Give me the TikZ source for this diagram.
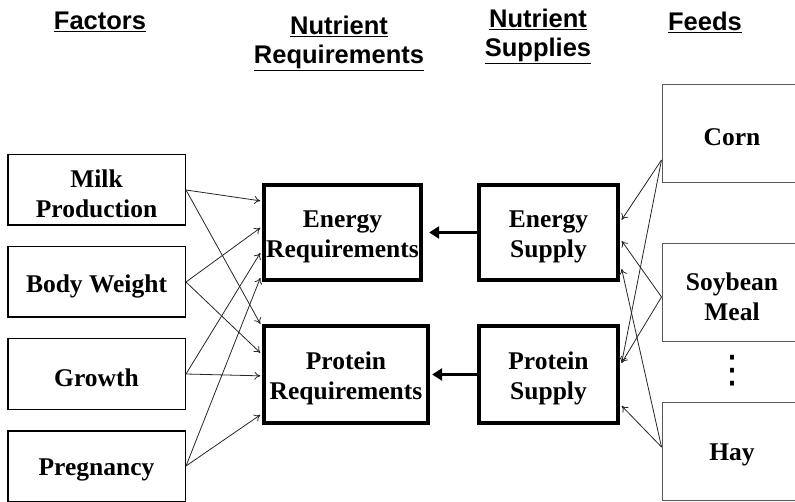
\documentclass[tikz,border=0pt]{standalone}
\usepackage{fontspec}
\setmainfont{Liberation Serif}
\newfontfamily\headfont{Liberation Sans}
\newfontfamily\dotsfont{DejaVu Sans}
\usetikzlibrary{calc,arrows.meta}
\begin{document}
\begin{tikzpicture}[x=1pt,y=-1pt,
  head/.style={font=\headfont\bfseries\fontsize{25.5}{30}\selectfont, align=center, inner sep=0pt},
  boxfont/.style={font=\bfseries\fontsize{25.5}{30}\selectfont},
  txt/.style={label={[boxfont, align=center, inner sep=0pt, yshift=-4pt]center:#1}},
  factor/.style={draw, line width=1.5pt, minimum width=177.5pt, minimum height=70.5pt, inner sep=0pt},
  core/.style={draw, line width=3.8pt, inner sep=0pt},
  feed/.style={draw=black!65, line width=1pt, minimum width=140pt, minimum height=98pt, inner sep=0pt},
  thin/.style={-{To[length=6pt,width=8pt]}, line width=0.8pt, black!85},
  big/.style={-{Triangle[length=10pt,width=12pt]}, line width=3.8pt}]
\useasboundingbox (0,0) rectangle (795,502);
% headers
\node[head] (h1) at (100,22) {\underline{Factors}};
\node[head] (h2) at (339,43) {\underline{Nutrient}\\[-1pt]\underline{Requirements}};
\node[head] (h3) at (538,36) {\underline{Nutrient}\\[-1pt]\underline{Supplies}};
\node[head] (h4) at (705,22) {\underline{Feeds}};
% factors
\node[factor, txt={Milk\\Production}] (milk) at (96.5,190) {};
\node[factor, txt={Body Weight}] (bw) at (96.5,282) {};
\node[factor, txt={Growth}] (gr) at (96.5,374) {};
\node[factor, txt={Pregnancy}] (pr) at (96.5,466) {};
% requirements / supplies
\node[core, minimum width=157.5pt, minimum height=95.5pt, txt={Energy\\Requirements}] (ereq) at (342.5,232.5) {};
\node[core, minimum width=164.5pt, minimum height=97.5pt, txt={Protein\\Requirements}] (preq) at (346,374.5) {};
\node[core, minimum width=139.5pt, minimum height=95.5pt, txt={Energy\\Supply}] (esup) at (548.5,232.5) {};
\node[core, minimum width=139.5pt, minimum height=97.5pt, txt={Protein\\Supply}] (psup) at (548.5,374.5) {};
% feeds
\node[feed, txt={Corn}] (corn) at (732,133.5) {};
\node[feed, txt={Soybean\\Meal}] (soy) at (732,292.5) {};
\node[feed, txt={Hay}] (hay) at (732,451) {};
\node[font=\dotsfont\fontsize{38}{38}\selectfont, inner sep=0pt] (dots) at (732,371) {⋮};
% thick arrows
\draw[big] (esup.west) -- ([xshift=6pt]ereq.east);
\draw[big] (psup.west) -- ([xshift=2pt]preq.east);
% factor arrows
\coordinate (e1) at ($(ereq.north west)+(-1.5,18)$);
\coordinate (e2) at ($(ereq.north west)+(-1.5,45)$);
\coordinate (e3) at ($(ereq.north west)+(-1.5,70)$);
\coordinate (e4) at ($(ereq.north west)+(-1.5,95)$);
\coordinate (p1) at ($(preq.north west)+(-1.5,0)$);
\coordinate (p2) at ($(preq.north west)+(-1.5,29)$);
\coordinate (p3) at ($(preq.north west)+(-1.5,52)$);
\coordinate (p4) at ($(preq.north west)+(-1.5,91)$);
\draw[thin] (milk.east) -- (e1);
\draw[thin] (milk.east) -- (p1);
\draw[thin] (bw.east) -- (e2);
\draw[thin] (bw.east) -- (p2);
\draw[thin] (gr.east) -- (e3);
\draw[thin] (gr.east) -- (p3);
\draw[thin] (pr.east) -- (e4);
\draw[thin] (pr.east) -- (p4);
% feed arrows
\coordinate (s1) at ($(esup.north east)+(1.5,37)$);
\coordinate (s2) at ($(esup.north east)+(1.5,58)$);
\coordinate (s3) at ($(esup.north east)+(1.5,86)$);
\coordinate (t1) at ($(psup.north east)+(1.5,39)$);
\coordinate (t2) at ($(psup.north east)+(1.5,82)$);
\draw[thin] ([yshift=-26.5pt]corn.west) -- (s1);
\draw[thin] ([yshift=-26.5pt]corn.west) -- (t1);
\draw[thin] ([yshift=-4.5pt]soy.west) -- (s2);
\draw[thin] ([yshift=-4.5pt]soy.west) -- (t1);
\draw[thin] ([yshift=4pt]hay.west) -- (s3);
\draw[thin] ([yshift=4pt]hay.west) -- (t2);
\end{tikzpicture}
\end{document}
